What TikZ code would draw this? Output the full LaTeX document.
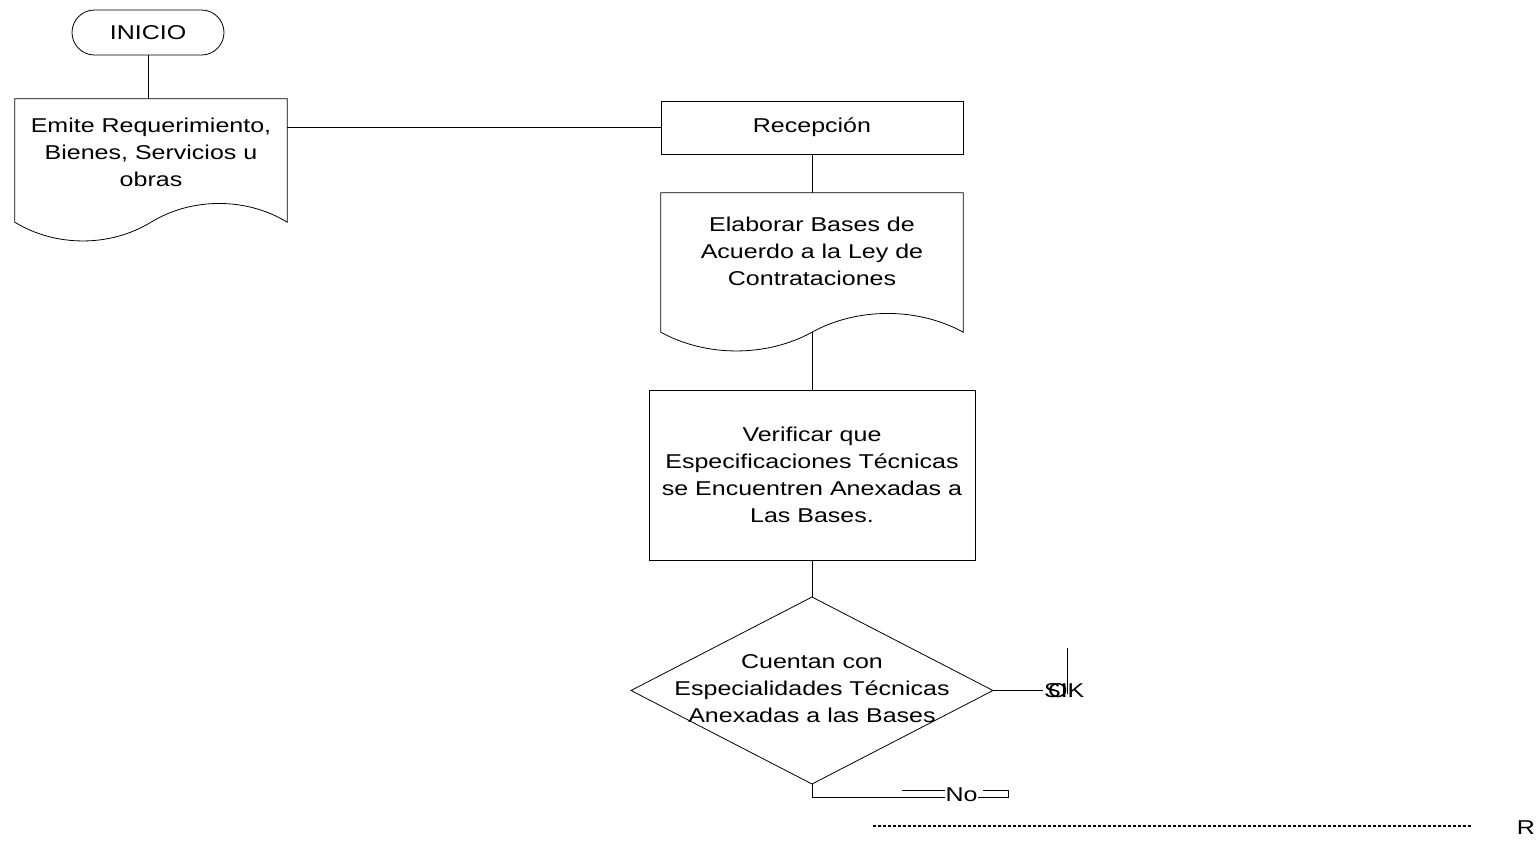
\documentclass[tikz,border=0pt]{standalone}
\usepackage{fontspec}
\setmainfont{Liberation Sans}[FakeStretch=1.25]
\usetikzlibrary{calc,shapes.misc}

% outline of a flowchart "document" symbol around a node: #1 node, #2 drop of the wavy edge below its south side
\newcommand\docoutline[2]{%
  \draw[flow] let \p1=(#1.north west), \p2=(#1.south east),
      \n1={\y2-#2pt}, \n2={\x2-\x1} in
    (\x1,\n1) -- (\x1,\y1) -- (\x2,\y1) -- (\x2,\n1)
    .. controls (\x2-0.15*\n2,\n1+25pt) and (\x2-0.35*\n2,\n1+25pt) .. (\x1+0.5*\n2,\n1)
    .. controls (\x1+0.35*\n2,\n1-25pt) and (\x1+0.15*\n2,\n1-25pt) .. (\x1,\n1) -- cycle;
}

\begin{document}
\begin{tikzpicture}[x=1pt,y=-1pt,
  every node/.style={font=\fontsize{20}{27}\selectfont, inner sep=0pt, align=center, text=black},
  flow/.style={draw=black, line width=0.8pt},
  terminal/.style={flow, rounded rectangle, minimum width=152pt, minimum height=45pt},
  procbox/.style={flow, rectangle},
  docbody/.style={rectangle},
  dotline/.style={draw=black, line width=1.3pt, dash pattern=on 3pt off 2pt}]
\useasboundingbox (0,0) rectangle (1537,844);

% start
\node[terminal] (inicio) at (148,32.5) {INICIO};

% requirement document
\node[docbody, minimum width=272pt, minimum height=106pt] (doc1) at (151,152)
  {Emite Requerimiento,\\Bienes, Servicios u\\obras};
\docoutline{doc1}{17}

% reception
\node[procbox, minimum width=302pt, minimum height=53pt] (recep) at (812,127.5) {Recepción};

% bases document
\node[docbody, minimum width=302pt, minimum height=116pt] (doc2) at (812,251)
  {Elaborar Bases de\\Acuerdo a la Ley de\\Contrataciones};
\docoutline{doc2}{23}
\coordinate (doc2w) at ([yshift=-23pt]doc2.south);

% verification
\node[procbox, minimum width=326pt, minimum height=170pt] (verif) at (812,475)
  {Verificar que\\Especificaciones Técnicas\\se Encuentren Anexadas a\\Las Bases.};

% decision
\coordinate (dtop) at (812,597);
\coordinate (dr) at (993,690.5);
\coordinate (dbot) at (812,784);
\coordinate (dl) at (631,690.5);
\draw[flow] (dtop) -- (dr) -- (dbot) -- (dl) -- cycle;
\node (dec) at (812,689) {Cuentan con\\Especialidades Técnicas\\Anexadas a las Bases};

% connectors
\draw[flow] (inicio.south) -- (inicio.south |- doc1.north);
\draw[flow] (recep.west) -- (recep.west -| doc1.east);
\draw[flow] (recep.south) -- (doc2.north);
\draw[flow] (doc2w) -- (verif.north);
\draw[flow] (verif.south) -- (dtop);

% yes branch
\coordinate (siend) at (1043,690.5);
\draw[flow] (dr) -- (siend);
\node[anchor=west] (si) at (1044,690.5) {SI};
\node[anchor=west] (ok) at (1048,690.5) {OK};
\coordinate (vt) at (1067,648);
\coordinate (vb) at (1067,694);
\draw[flow] (vt) -- (vb);

% no branch
\node (no) at (961.5,795) {No};
\coordinate (nbend) at (812,797);
\coordinate (nin) at (945,797);
\draw[flow] (dbot) -- (nbend) -- (nin);
\coordinate (nu1) at (902,790);
\coordinate (nu2) at (945,790);
\draw[flow] (nu1) -- (nu2);
\coordinate (nout) at (978,797);
\coordinate (nr1) at (1008,797);
\coordinate (nr2) at (1008,790);
\coordinate (nr3) at (983,790);
\draw[flow] (nout) -- (nr1) -- (nr2) -- (nr3);

% dotted rule and margin letter
\coordinate (da) at (873,826);
\coordinate (db) at (1472,826);
\draw[dotline] (da) -- (db);
\node (r) at (1526,828) {R};
\end{tikzpicture}
\end{document}
